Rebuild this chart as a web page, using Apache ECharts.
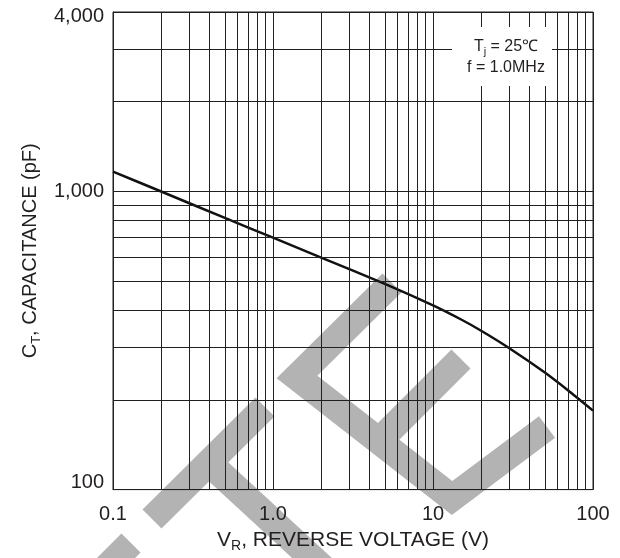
<!DOCTYPE html>
<html>
<head>
<meta charset="utf-8">
<script src="https://cdn.jsdelivr.net/npm/echarts@6/dist/echarts.min.js"></script>
<style>
	html, body { margin: 0; padding: 0; background: #fff; }
	#chart { width: 620px; height: 558px; }
</style>
<title></title>
</head>
<body>
<div id="chart"></div>
<script>
	// reverse voltage (V) -> total capacitance (pF)
	const voltage = [0.1, 0.2, 0.5, 1, 2, 5, 10, 15, 20, 30, 50, 70, 100];
	const capacitance = [1165, 1000, 815, 700, 600, 490, 415, 372, 341, 298, 247, 215, 184];

	// minor lines of the log-log paper
	const xGridValues = [0.2, 0.3, 0.4, 0.5, 0.6, 0.7, 0.8, 0.9,
		2, 3, 4, 5, 6, 7, 8, 9,
		20, 30, 40, 50, 60, 70, 80, 90];
	const yGridValues = [200, 300, 400, 500, 600, 700, 800, 900, 2000, 3000];

	const font = 'Liberation Sans, Arial, sans-serif';
	const ink = '#231f20';

	const chart = echarts.init(document.getElementById('chart'));

	let curve = [];
	for (let i = 0; i < voltage.length; i++) {
		curve.push([voltage[i], capacitance[i]]);
	}

	let gridLines = [];
	xGridValues.forEach(v => gridLines.push({ xAxis: v }));
	yGridValues.forEach(v => gridLines.push({ yAxis: v }));

	function xLabel(v) {
		const r = Math.round(v * 10) / 10;
		if (r < 1) return r.toFixed(1);
		if (r === 1) return '1.0';
		return String(Math.round(r));
	}
	function yLabel(v) {
		const r = Math.round(v);
		const s = String(r).replace(/\B(?=(\d{3})+(?!\d))/g, ',');
		if (r === 100) return '{low|' + s + '}';   // bottom label sits a bit above the frame
		if (r === 4000) return '{high|' + s + '}'; // top one a bit below
		return s;
	}

	// grey watermark strokes (decoration only)
	const wm = { stroke: '#b3b3b3', lineWidth: 27, fill: null, lineJoin: 'miter', lineCap: 'butt' };

	chart.setOption({
		animation: false,
		textStyle: { fontFamily: font },
		grid: {
			left: 113, right: 27, top: 12, bottom: 67,
			show: true, borderColor: ink, borderWidth: 1
		},
		xAxis: {
			type: 'log',
			logBase: 10,
			min: 0.1,
			max: 100,
			name: '{a|V}{s|R}{a|, REVERSE VOLTAGE (V)}',
			nameLocation: 'middle',
			nameGap: 35,
			nameTextStyle: {
				rich: {
					a: { fontSize: 21, color: ink, fontFamily: font },
					s: { fontSize: 14, color: ink, fontFamily: font, padding: [12, 0, 0, 0] }
				}
			},
			axisLine: { show: true, lineStyle: { color: ink } },
			axisTick: { show: false },
			axisLabel: { fontSize: 20, color: ink, margin: 15, formatter: xLabel },
			splitLine: { show: true, lineStyle: { color: ink, width: 1 } }
		},
		yAxis: {
			type: 'log',
			logBase: 10,
			min: 100,
			max: 4000,
			name: '{a|C}{s|T}{a|, CAPACITANCE (pF)}',
			nameLocation: 'middle',
			nameGap: 68,
			nameTextStyle: {
				rich: {
					a: { fontSize: 20, color: ink, fontFamily: font },
					s: { fontSize: 13, color: ink, fontFamily: font, padding: [12, 0, 0, 0] }
				}
			},
			axisLine: { show: true, lineStyle: { color: ink } },
			axisTick: { show: false },
			axisLabel: {
				fontSize: 20, color: ink, margin: 9, formatter: yLabel,
				rich: {
					low: { fontSize: 20, color: ink, fontFamily: font, padding: [0, 0, 14, 0] },
					high: { fontSize: 20, color: ink, fontFamily: font, padding: [8, 0, 0, 0] }
				}
			},
			splitLine: { show: true, lineStyle: { color: ink, width: 1 } }
		},
		series: [
			{
				name: 'grid',
				type: 'line',
				data: [],
				z: 2,
				markLine: {
					silent: true,
					symbol: ['none', 'none'],
					label: { show: false },
					lineStyle: { color: ink, width: 1, type: 'solid' },
					emphasis: { disabled: true },
					data: gridLines
				}
			},
			{
				name: 'C_T',
				type: 'line',
				data: curve,
				z: 3,
				smooth: 0.2,
				showSymbol: false,
				lineStyle: { color: '#111', width: 2.5, join: 'round' }
			}
		],
		graphic: [
			{ type: 'polyline', silent: true, z: -5, shape: { points: [[392, 283], [297, 377], [452, 498], [547, 427]] }, style: wm },
			{ type: 'polyline', silent: true, z: -5, shape: { points: [[380, 440], [461, 359]] }, style: wm },
			{ type: 'polyline', silent: true, z: -5, shape: { points: [[152, 519], [265, 407]] }, style: wm },
			{ type: 'polyline', silent: true, z: -5, shape: { points: [[209, 463], [325, 570]] }, style: wm },
			{ type: 'polyline', silent: true, z: -5, shape: { points: [[131, 543], [95, 579]] }, style: wm },
			// conditions box
			{ type: 'rect', silent: true, z: 100, shape: { x: 452, y: 27, width: 100, height: 59 }, style: { fill: '#fff' } },
			{
				type: 'text', silent: true, z: 101, x: 506, y: 47,
				style: {
					text: '{a|T}{s|j}{a| = 25℃}',
					align: 'center', verticalAlign: 'middle',
					rich: {
						a: { fontSize: 16, fill: ink, fontFamily: font },
						s: { fontSize: 11, fill: ink, fontFamily: font, padding: [9, 0, 0, 0] }
					}
				}
			},
			{
				type: 'text', silent: true, z: 101, x: 506, y: 68,
				style: {
					text: 'f = 1.0MHz',
					align: 'center', verticalAlign: 'middle',
					fontSize: 16, fill: ink, fontFamily: font
				}
			}
		]
	});
</script>
</body>
</html>
